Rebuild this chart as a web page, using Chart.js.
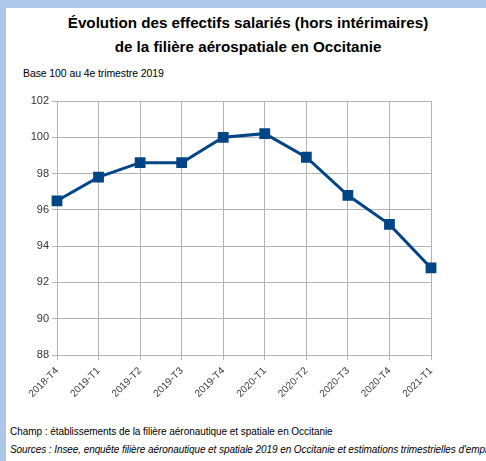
<!DOCTYPE html>
<html>
<head>
<meta charset="utf-8">
<script src="https://cdn.jsdelivr.net/npm/chart.js@4/dist/chart.umd.min.js"></script>
<style>
  html, body { margin:0; padding:0; }
  body { width:486px; height:461px; background:#aec6e8; position:relative; overflow:hidden; font-family:"Liberation Sans", Arial, sans-serif; }
  #panel { position:absolute; left:6px; top:8px; width:480px; height:453px; background:#ffffff; }
  .t { position:absolute; white-space:nowrap; color:#000; }
  #title { left:8px; width:480px; top:11px; text-align:center; font-weight:bold; font-size:15.2px; line-height:24px; }
  #sub { left:23px; top:67px; font-size:10.5px; letter-spacing:-0.1px; }
  #champ { left:10px; top:426px; font-size:10px; letter-spacing:-0.05px; }
  #src { left:10px; top:444px; font-size:10px; font-style:italic; letter-spacing:-0.08px; }
  #wrap { position:absolute; left:0; top:0; width:486px; height:461px; }
</style>
</head>
<body>
<div id="panel"></div>
<div class="t" id="title">Évolution des effectifs salariés (hors intérimaires)<br>de la filière aérospatiale en Occitanie</div>
<div class="t" id="sub">Base 100 au 4e trimestre 2019</div>
<div class="t" id="champ">Champ : établissements de la filière aéronautique et spatiale en Occitanie</div>
<div class="t" id="src">Sources : Insee, enquête filière aéronautique et spatiale 2019 en Occitanie et estimations trimestrielles d'emploi</div>
<div id="wrap"><canvas id="c" width="486" height="461"></canvas></div>
<script>
const categories = ["2018-T4","2019-T1","2019-T2","2019-T3","2019-T4","2020-T1","2020-T2","2020-T3","2020-T4","2021-T1"];
const effectifs = [96.5, 97.8, 98.6, 98.6, 100.0, 100.2, 98.9, 96.8, 95.2, 92.8];
const yTicks = [88, 90, 92, 94, 96, 98, 100, 102];

new Chart(document.getElementById('c'), {
  type: 'line',
  data: {
    labels: categories,
    datasets: [{
      label: 'Effectifs',
      data: effectifs,
      borderColor: '#004586',
      backgroundColor: '#004586',
      borderWidth: 3,
      pointStyle: 'rect',
      pointRadius: 5.5,
      pointHoverRadius: 5.5,
      tension: 0,
      fill: false
    }]
  },
  options: {
    responsive: false,
    animation: false,
    events: [],
    layout: { padding: { left: 0, top: 101, right: 55, bottom: 0 } },
    plugins: { legend: { display: false }, tooltip: { enabled: false } },
    scales: {
      x: {
        offset: false,
        grid: { display: true, color: '#b3b3b3', lineWidth: 1, drawOnChartArea: true, tickLength: 5, drawTicks: true },
        border: { color: '#b3b3b3', width: 1 },
        ticks: { color: '#3a3a3a', font: { family: 'Liberation Sans', size: 10 }, minRotation: 45, maxRotation: 45, padding: 5, autoSkip: false },
        afterFit: (s) => { s.height = 461 - 355; }
      },
      y: {
        min: 88, max: 102,
        afterBuildTicks: (s) => { s.ticks = yTicks.map(v => ({ value: v })); },
        grid: { color: '#b3b3b3', lineWidth: 1, tickLength: 5 },
        border: { color: '#b3b3b3', width: 1 },
        ticks: { color: '#333333', font: { family: 'Liberation Sans', size: 11 }, padding: 3 },
        afterFit: (s) => { s.width = 57; }
      }
    }
  }
});
</script>
</body>
</html>
